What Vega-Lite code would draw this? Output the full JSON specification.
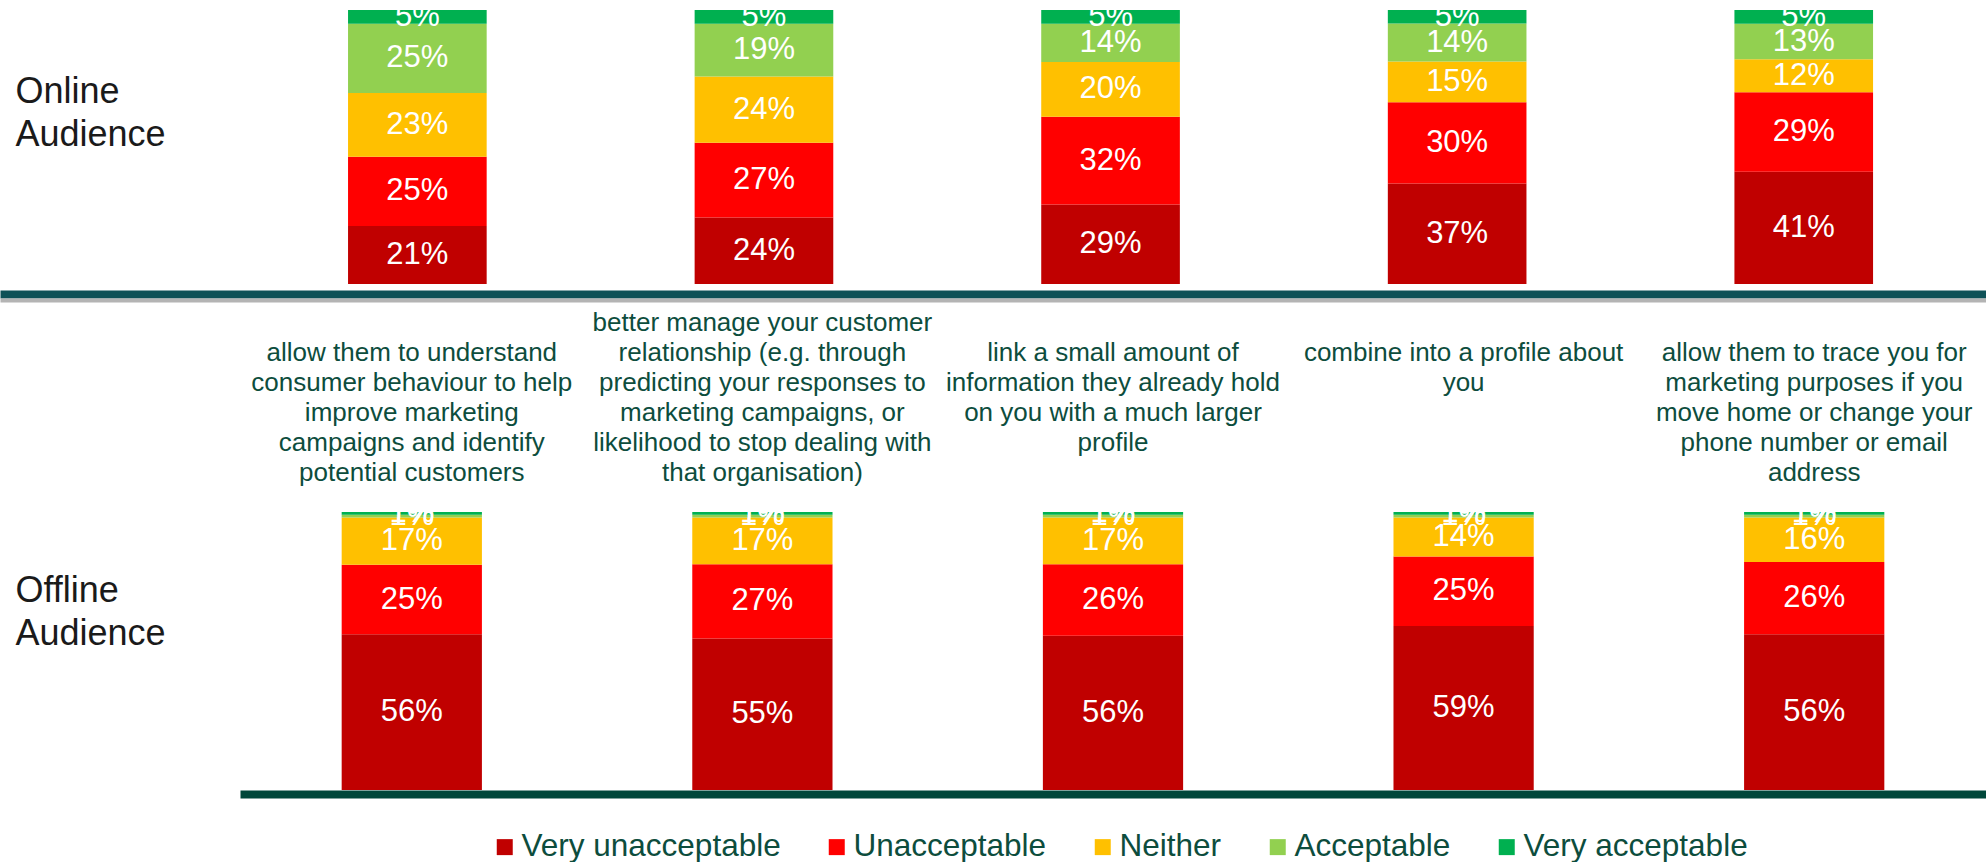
{
  "$schema": "https://vega.github.io/schema/vega-lite/v6.json",
  "padding": {"left": 0, "right": 0, "top": 10, "bottom": 0},
  "background": "white",
  "spacing": 9,
  "config": {"view": {"stroke": null}, "font": "Liberation Sans", "axis": {"grid": false}},
  "datasets": {
    "d": [
      {"p": "Online", "q": "allow them to understand|consumer behaviour to help|improve marketing|campaigns and identify|potential customers", "cat": "Very unacceptable", "ord": 1, "v": 0.21},
      {"p": "Online", "q": "allow them to understand|consumer behaviour to help|improve marketing|campaigns and identify|potential customers", "cat": "Unacceptable", "ord": 2, "v": 0.25},
      {"p": "Online", "q": "allow them to understand|consumer behaviour to help|improve marketing|campaigns and identify|potential customers", "cat": "Neither", "ord": 3, "v": 0.23},
      {"p": "Online", "q": "allow them to understand|consumer behaviour to help|improve marketing|campaigns and identify|potential customers", "cat": "Acceptable", "ord": 4, "v": 0.25},
      {"p": "Online", "q": "allow them to understand|consumer behaviour to help|improve marketing|campaigns and identify|potential customers", "cat": "Very acceptable", "ord": 5, "v": 0.05},
      {"p": "Online", "q": "better manage your customer|relationship (e.g. through|predicting your responses to|marketing campaigns, or|likelihood to stop dealing with|that organisation)", "cat": "Very unacceptable", "ord": 1, "v": 0.24},
      {"p": "Online", "q": "better manage your customer|relationship (e.g. through|predicting your responses to|marketing campaigns, or|likelihood to stop dealing with|that organisation)", "cat": "Unacceptable", "ord": 2, "v": 0.27},
      {"p": "Online", "q": "better manage your customer|relationship (e.g. through|predicting your responses to|marketing campaigns, or|likelihood to stop dealing with|that organisation)", "cat": "Neither", "ord": 3, "v": 0.24},
      {"p": "Online", "q": "better manage your customer|relationship (e.g. through|predicting your responses to|marketing campaigns, or|likelihood to stop dealing with|that organisation)", "cat": "Acceptable", "ord": 4, "v": 0.19},
      {"p": "Online", "q": "better manage your customer|relationship (e.g. through|predicting your responses to|marketing campaigns, or|likelihood to stop dealing with|that organisation)", "cat": "Very acceptable", "ord": 5, "v": 0.05},
      {"p": "Online", "q": "link a small amount of|information they already hold|on you with a much larger|profile", "cat": "Very unacceptable", "ord": 1, "v": 0.29},
      {"p": "Online", "q": "link a small amount of|information they already hold|on you with a much larger|profile", "cat": "Unacceptable", "ord": 2, "v": 0.32},
      {"p": "Online", "q": "link a small amount of|information they already hold|on you with a much larger|profile", "cat": "Neither", "ord": 3, "v": 0.20},
      {"p": "Online", "q": "link a small amount of|information they already hold|on you with a much larger|profile", "cat": "Acceptable", "ord": 4, "v": 0.14},
      {"p": "Online", "q": "link a small amount of|information they already hold|on you with a much larger|profile", "cat": "Very acceptable", "ord": 5, "v": 0.05},
      {"p": "Online", "q": "combine into a profile about|you", "cat": "Very unacceptable", "ord": 1, "v": 0.37},
      {"p": "Online", "q": "combine into a profile about|you", "cat": "Unacceptable", "ord": 2, "v": 0.30},
      {"p": "Online", "q": "combine into a profile about|you", "cat": "Neither", "ord": 3, "v": 0.15},
      {"p": "Online", "q": "combine into a profile about|you", "cat": "Acceptable", "ord": 4, "v": 0.14},
      {"p": "Online", "q": "combine into a profile about|you", "cat": "Very acceptable", "ord": 5, "v": 0.05},
      {"p": "Online", "q": "allow them to trace you for|marketing purposes if you|move home or change your|phone number or email|address", "cat": "Very unacceptable", "ord": 1, "v": 0.41},
      {"p": "Online", "q": "allow them to trace you for|marketing purposes if you|move home or change your|phone number or email|address", "cat": "Unacceptable", "ord": 2, "v": 0.29},
      {"p": "Online", "q": "allow them to trace you for|marketing purposes if you|move home or change your|phone number or email|address", "cat": "Neither", "ord": 3, "v": 0.12},
      {"p": "Online", "q": "allow them to trace you for|marketing purposes if you|move home or change your|phone number or email|address", "cat": "Acceptable", "ord": 4, "v": 0.13},
      {"p": "Online", "q": "allow them to trace you for|marketing purposes if you|move home or change your|phone number or email|address", "cat": "Very acceptable", "ord": 5, "v": 0.05},
      {"p": "Offline", "q": "allow them to understand|consumer behaviour to help|improve marketing|campaigns and identify|potential customers", "cat": "Very unacceptable", "ord": 1, "v": 0.56},
      {"p": "Offline", "q": "allow them to understand|consumer behaviour to help|improve marketing|campaigns and identify|potential customers", "cat": "Unacceptable", "ord": 2, "v": 0.25},
      {"p": "Offline", "q": "allow them to understand|consumer behaviour to help|improve marketing|campaigns and identify|potential customers", "cat": "Neither", "ord": 3, "v": 0.17},
      {"p": "Offline", "q": "allow them to understand|consumer behaviour to help|improve marketing|campaigns and identify|potential customers", "cat": "Acceptable", "ord": 4, "v": 0.01},
      {"p": "Offline", "q": "allow them to understand|consumer behaviour to help|improve marketing|campaigns and identify|potential customers", "cat": "Very acceptable", "ord": 5, "v": 0.01},
      {"p": "Offline", "q": "better manage your customer|relationship (e.g. through|predicting your responses to|marketing campaigns, or|likelihood to stop dealing with|that organisation)", "cat": "Very unacceptable", "ord": 1, "v": 0.55},
      {"p": "Offline", "q": "better manage your customer|relationship (e.g. through|predicting your responses to|marketing campaigns, or|likelihood to stop dealing with|that organisation)", "cat": "Unacceptable", "ord": 2, "v": 0.27},
      {"p": "Offline", "q": "better manage your customer|relationship (e.g. through|predicting your responses to|marketing campaigns, or|likelihood to stop dealing with|that organisation)", "cat": "Neither", "ord": 3, "v": 0.17},
      {"p": "Offline", "q": "better manage your customer|relationship (e.g. through|predicting your responses to|marketing campaigns, or|likelihood to stop dealing with|that organisation)", "cat": "Acceptable", "ord": 4, "v": 0.01},
      {"p": "Offline", "q": "better manage your customer|relationship (e.g. through|predicting your responses to|marketing campaigns, or|likelihood to stop dealing with|that organisation)", "cat": "Very acceptable", "ord": 5, "v": 0.01},
      {"p": "Offline", "q": "link a small amount of|information they already hold|on you with a much larger|profile", "cat": "Very unacceptable", "ord": 1, "v": 0.56},
      {"p": "Offline", "q": "link a small amount of|information they already hold|on you with a much larger|profile", "cat": "Unacceptable", "ord": 2, "v": 0.26},
      {"p": "Offline", "q": "link a small amount of|information they already hold|on you with a much larger|profile", "cat": "Neither", "ord": 3, "v": 0.17},
      {"p": "Offline", "q": "link a small amount of|information they already hold|on you with a much larger|profile", "cat": "Acceptable", "ord": 4, "v": 0.01},
      {"p": "Offline", "q": "link a small amount of|information they already hold|on you with a much larger|profile", "cat": "Very acceptable", "ord": 5, "v": 0.01},
      {"p": "Offline", "q": "combine into a profile about|you", "cat": "Very unacceptable", "ord": 1, "v": 0.59},
      {"p": "Offline", "q": "combine into a profile about|you", "cat": "Unacceptable", "ord": 2, "v": 0.25},
      {"p": "Offline", "q": "combine into a profile about|you", "cat": "Neither", "ord": 3, "v": 0.14},
      {"p": "Offline", "q": "combine into a profile about|you", "cat": "Acceptable", "ord": 4, "v": 0.01},
      {"p": "Offline", "q": "combine into a profile about|you", "cat": "Very acceptable", "ord": 5, "v": 0.01},
      {"p": "Offline", "q": "allow them to trace you for|marketing purposes if you|move home or change your|phone number or email|address", "cat": "Very unacceptable", "ord": 1, "v": 0.56},
      {"p": "Offline", "q": "allow them to trace you for|marketing purposes if you|move home or change your|phone number or email|address", "cat": "Unacceptable", "ord": 2, "v": 0.26},
      {"p": "Offline", "q": "allow them to trace you for|marketing purposes if you|move home or change your|phone number or email|address", "cat": "Neither", "ord": 3, "v": 0.16},
      {"p": "Offline", "q": "allow them to trace you for|marketing purposes if you|move home or change your|phone number or email|address", "cat": "Acceptable", "ord": 4, "v": 0.01},
      {"p": "Offline", "q": "allow them to trace you for|marketing purposes if you|move home or change your|phone number or email|address", "cat": "Very acceptable", "ord": 5, "v": 0.01}
    ]
  },
  "vconcat": [
    {
      "width": 1986,
      "height": 274,
      "data": {"name": "d"},
      "transform": [{"filter": "datum.p === 'Online'"}],
      "encoding": {
        "y": {"field": "v", "type": "quantitative", "stack": "normalize",
          "axis": {"title": ["Online", "Audience"], "titleAngle": 0, "titleAlign": "left", "titleBaseline": "alphabetic", "titleX": 15, "titleY": 92, "titleFontSize": 36, "titleFontWeight": "normal", "titleColor": "#1a1a1a", "titleLineHeight": 43, "titleFont": "Liberation Sans", "labels": false, "ticks": false, "domain": false, "grid": false, "minExtent": 0, "maxExtent": 0, "titlePadding": 0}},
        "color": {"field": "cat", "type": "nominal",
          "sort": ["Very unacceptable", "Unacceptable", "Neither", "Acceptable", "Very acceptable"],
          "scale": {"domain": ["Very unacceptable", "Unacceptable", "Neither", "Acceptable", "Very acceptable"], "range": ["#C00000", "#FF0000", "#FFC000", "#92D050", "#00B050"]},
          "legend": {"orient": "none", "legendX": 489, "legendY": 821, "direction": "horizontal", "title": null, "symbolType": "square", "symbolSize": 256, "symbolStrokeWidth": 0, "labelFontSize": 31.5, "labelColor": "#0D4D3D", "labelFont": "Liberation Sans", "columnPadding": 40, "labelOffset": 1, "padding": 0, "labelLimit": 400}},
        "order": {"field": "ord", "type": "quantitative"}
      },
      "layer": [
        {"mark": {"type": "bar"},
          "encoding": {
            "x": {"field": "q", "type": "nominal", "sort": null,
              "scale": {"paddingInner": 0.6, "paddingOuter": 0.665, "align": 0.755},
              "axis": {"orient": "bottom", "labels": false, "ticks": false, "title": null, "domainColor": "#0E5157", "domainWidth": 8, "offset": 10}}
          }},
        {"mark": {"type": "text", "fontSize": 31, "clip": true, "baseline": "middle", "font": "Liberation Sans"},
          "encoding": {
            "x": {"field": "q", "type": "nominal", "sort": null,
              "axis": {"orient": "bottom", "labels": false, "ticks": false, "title": null, "domainColor": "#b4b4b4", "domainWidth": 4, "offset": 16}},
            "y": {"field": "v", "type": "quantitative", "stack": "normalize", "bandPosition": 0.5},
            "color": {"value": "white"},
            "detail": {"field": "cat"},
            "text": {"field": "v", "type": "quantitative", "format": ".0%"}
          }}
      ],
      "resolve": {"axis": {"x": "independent"}}
    },
    {
      "width": 1986,
      "height": 278,
      "data": {"name": "d"},
      "transform": [{"filter": "datum.p === 'Offline'"}],
      "encoding": {
        "y": {"field": "v", "type": "quantitative", "stack": "normalize",
          "axis": {"title": ["Offline", "Audience"], "titleAngle": 0, "titleAlign": "left", "titleBaseline": "alphabetic", "titleX": 15, "titleY": 89, "titleFontSize": 36, "titleFontWeight": "normal", "titleColor": "#1a1a1a", "titleLineHeight": 43, "titleFont": "Liberation Sans", "labels": false, "ticks": false, "domain": false, "grid": false, "minExtent": 0, "maxExtent": 0, "titlePadding": 0}},
        "color": {"field": "cat", "type": "nominal",
          "sort": ["Very unacceptable", "Unacceptable", "Neither", "Acceptable", "Very acceptable"],
          "scale": {"domain": ["Very unacceptable", "Unacceptable", "Neither", "Acceptable", "Very acceptable"], "range": ["#C00000", "#FF0000", "#FFC000", "#92D050", "#00B050"]},
          "legend": {"orient": "none", "legendX": 489, "legendY": 821, "direction": "horizontal", "title": null, "symbolType": "square", "symbolSize": 256, "symbolStrokeWidth": 0, "labelFontSize": 31.5, "labelColor": "#0D4D3D", "labelFont": "Liberation Sans", "columnPadding": 40, "labelOffset": 1, "padding": 0, "labelLimit": 400}},
        "order": {"field": "ord", "type": "quantitative"}
      },
      "layer": [
        {"mark": {"type": "bar"},
          "encoding": {
            "x": {"field": "q", "type": "nominal", "sort": null,
              "scale": {"range": [240, 1986], "paddingInner": 0.6, "paddingOuter": 0.29},
              "axis": {"orient": "top", "labelExpr": "split(pad('', 6 - length(split(datum.label, '|')), '|') + datum.label, '|')", "labelFontSize": 26, "labelLineHeight": 30, "labelColor": "#0D4D3D", "labelFont": "Liberation Sans", "labelLimit": 500, "labelOverlap": false, "labelPadding": 203, "labelBaseline": "top", "labelAngle": 0, "ticks": false, "domain": false, "title": null}}
          }},
        {"mark": {"type": "text", "fontSize": 31, "clip": true, "baseline": "middle", "font": "Liberation Sans"},
          "encoding": {
            "x": {"field": "q", "type": "nominal", "sort": null,
              "axis": {"orient": "bottom", "labels": false, "ticks": false, "title": null, "domainColor": "#00473A", "domainWidth": 8, "offset": 4}},
            "y": {"field": "v", "type": "quantitative", "stack": "normalize", "bandPosition": 0.5},
            "color": {"value": "white"},
            "detail": {"field": "cat"},
            "text": {"field": "v", "type": "quantitative", "format": ".0%"}
          }}
      ],
      "resolve": {"axis": {"x": "independent"}}
    }
  ]
}
